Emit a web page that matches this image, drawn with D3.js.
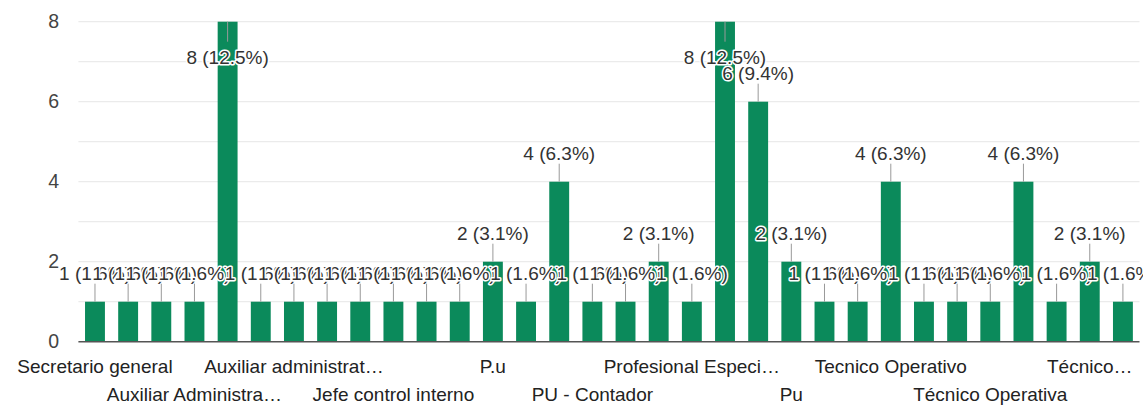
<!DOCTYPE html>
<html>
<head>
<meta charset="utf-8">
<script src="https://cdnjs.cloudflare.com/ajax/libs/d3/7.8.5/d3.min.js"></script>
<style>
	body { margin: 0; background: #fff; }
	svg text { font-family: Arial, 'Liberation Sans', sans-serif; }
</style>
</head>
<body>
<div id="chart"></div>
<script>
var width = 1143,
	height = 411;

// respuestas por cargo (orden del formulario)
var categories = [
	'Secretario general', 'Secretaria ejecutiva', 'Auxiliar de archivo', 'Auxiliar Administrativo',
	'Auxiliar administrativo', 'Conductor', 'Auxiliar administrativa', 'Almacenista', 'Tesorero',
	'Jefe control interno', 'Jefe de talento humano', 'Asesor jurídico', 'P.u', 'Profesional',
	'Profesional universitario', 'PU - Contador', 'PU - Planeación', 'Profesional Universitario',
	'Profesional Especializado', 'Profesional especializado', 'Profesional universitaria', 'Pu',
	'Secretaria', 'Técnico', 'Tecnico Operativo', 'Tecnico administrativo', 'Técnico Operativo',
	'Técnico Operativa', 'Técnico operativo', 'Técnico Administrativo', 'Técnico administrativo',
	'Técnico en sistemas'
];

var values = [1, 1, 1, 1, 8, 1, 1, 1, 1, 1, 1, 1, 2, 1, 4, 1, 1, 2, 1, 8, 6, 2, 1, 1, 4, 1, 1, 1, 4, 1, 2, 1];

var yTicks = [0, 2, 4, 6, 8];
var yGrid = [0, 1, 2, 3, 4, 5, 6, 7, 8];

var total = d3.sum(values);

var data = categories.map(function(c, i) { return { name: c, value: values[i], i: i }; });

var svg = d3.select('#chart').append('svg')
	.attr('width', width)
	.attr('height', height);

var plotLeft = 78.4, plotRight = 1139.5, plotTop = 21.7, plotBottom = 341.7;

var x = d3.scaleBand()
	.domain(data.map(function(d) { return d.i; }))
	.range([plotLeft, plotRight])
	.paddingInner(0.4)
	.paddingOuter(0.2);

var y = d3.scaleLinear()
	.domain([0, 8])
	.range([plotBottom, plotTop]);

// grid
svg.append('g').selectAll('line')
	.data(yGrid.filter(function(d) { return d > 0; }))
	.enter().append('line')
	.attr('x1', plotLeft).attr('x2', plotRight)
	.attr('y1', function(d) { return y(d); })
	.attr('y2', function(d) { return y(d); })
	.attr('stroke', '#ebebeb')
	.attr('stroke-width', 1.3);

// y axis labels
var yAxis = svg.append('g')
	.attr('transform', 'translate(' + 59 + ',0)')
	.call(d3.axisLeft(y).tickValues(yTicks).tickSize(0).tickPadding(0));
yAxis.select('.domain').remove();
yAxis.selectAll('text')
	.attr('font-size', 19.5)
	.attr('fill', '#444')
	.style('font-family', 'Arial, Liberation Sans, sans-serif');

// bars
svg.append('g').selectAll('rect')
	.data(data)
	.enter().append('rect')
	.attr('x', function(d) { return x(d.i); })
	.attr('y', function(d) { return y(d.value); })
	.attr('width', x.bandwidth())
	.attr('height', function(d) { return y(0) - y(d.value); })
	.attr('fill', '#0b8a5b');

// baseline
svg.append('line')
	.attr('x1', plotLeft).attr('x2', plotRight)
	.attr('y1', y(0)).attr('y2', y(0))
	.attr('stroke', '#555')
	.attr('stroke-width', 1.6);

// x labels, one every 3 bars, two rows
var xAxis = svg.append('g')
	.attr('transform', 'translate(0,' + y(0) + ')');

data.filter(function(d) { return d.i % 3 === 0; }).forEach(function(d, k) {
	var cx = x(d.i) + x.bandwidth() / 2;
	var t = xAxis.append('text')
		.attr('x', cx)
		.attr('y', k % 2 === 0 ? 31 : 59)
		.attr('text-anchor', 'middle')
		.attr('font-size', 19)
		.attr('fill', '#222')
		.text(d.name);
	var maxW = Math.min(180, 2 * (width - cx - 8));
	var s = d.name;
	while (t.node().getComputedTextLength() > maxW && s.length > 1) {
		s = s.slice(0, -1);
		t.text(s.replace(/\s+$/, '') + '…');
	}
});

// annotations
function pct(v) {
	return Math.round(v / total * 1000) / 10;
}

var ann = svg.append('g');
data.forEach(function(d) {
	var cx = x(d.i) + x.bandwidth() / 2,
		yt = y(d.value),
		inside = d.value >= 8;
	var g = ann.append('g');
	g.append('line')
		.attr('x1', cx).attr('x2', cx)
		.attr('y1', yt)
		.attr('y2', inside ? yt + 20 : yt - 18)
		.attr('stroke', '#999')
		.attr('stroke-width', 1);
	g.append('text')
		.attr('x', cx)
		.attr('y', inside ? yt + 42 : yt - 22)
		.attr('text-anchor', 'middle')
		.attr('font-size', 19)
		.attr('fill', '#333')
		.attr('stroke', '#fff')
		.attr('stroke-width', 3)
		.attr('stroke-linejoin', 'round')
		.style('paint-order', 'stroke')
		.text(d.value + ' (' + pct(d.value) + '%)');
});
</script>
</body>
</html>
